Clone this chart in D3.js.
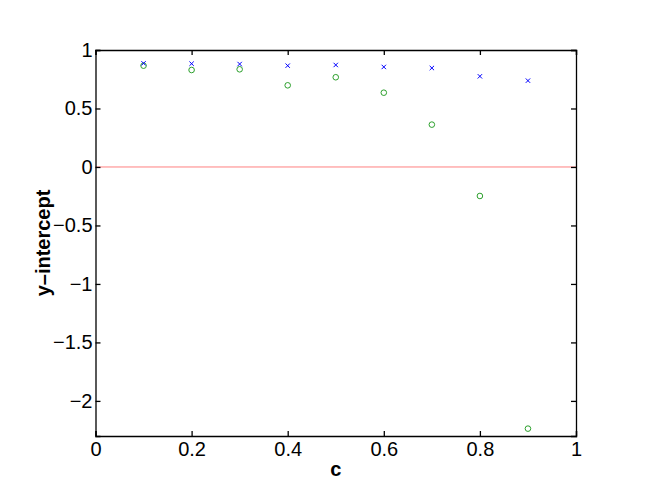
<!DOCTYPE html>
<html><head><meta charset="utf-8">
<script src="https://cdn.jsdelivr.net/npm/d3@7"></script>
<style>body{margin:0;background:#fff}svg{display:block}text{font-family:"Liberation Sans",Arial,sans-serif}</style>
</head><body>
<script>
const cValues = [0.1,0.2,0.3,0.4,0.5,0.6,0.7,0.8,0.9];
const seriesX = [0.886,0.883,0.880,0.866,0.872,0.855,0.846,0.775,0.738];
const seriesO = [0.866,0.829,0.835,0.698,0.767,0.635,0.362,-0.248,-2.237];
const xTicks = [0,0.2,0.4,0.6,0.8,1];
const yTicks = [-2,-1.5,-1,-0.5,0,0.5,1];

const W=651,H=503;
const L=95.5,R=576,T=50,B=436;
const svg=d3.select("body").append("svg").attr("width",W).attr("height",H);
const x=d3.scaleLinear().domain([0,1]).range([L,R]);
const y=d3.scaleLinear().domain([-2.3,1]).range([B,T]);
const fmt=d=>String(d).replace("-","\u2212");

// zero line
svg.append("line").attr("x1",L).attr("x2",R).attr("y1",y(0)).attr("y2",y(0))
  .attr("stroke","#ff8080").attr("stroke-width",1);

// axes with inward ticks
const ax=svg.append("g").attr("transform",`translate(0,${B})`)
  .call(d3.axisBottom(x).tickValues(xTicks).tickSize(-5).tickPadding(6).tickFormat(fmt));
const axT=svg.append("g").attr("transform",`translate(0,${T})`)
  .call(d3.axisTop(x).tickValues(xTicks).tickSize(-5).tickFormat(""));
const ay=svg.append("g").attr("transform",`translate(${L},0)`)
  .call(d3.axisLeft(y).tickValues(yTicks).tickSize(-5).tickPadding(3).tickFormat(fmt));
const ayR=svg.append("g").attr("transform",`translate(${R},0)`)
  .call(d3.axisRight(y).tickValues(yTicks).tickSize(-5).tickFormat(""));
[ax,axT,ay,ayR].forEach(g=>{
  g.attr("font-family",null).attr("font-size",null);
  g.select(".domain").attr("stroke","#000").attr("stroke-width",1.3);
  g.selectAll(".tick line").attr("stroke","#000").attr("stroke-width",1.3);
  g.selectAll("text").style("font-size","20px").attr("fill","#000");
});

// circles
svg.append("g").selectAll("circle").data(cValues).join("circle")
  .attr("cx",d=>x(d)).attr("cy",(d,i)=>y(seriesO[i])).attr("r",2.8)
  .attr("fill","none").attr("stroke","#2ca02c").attr("stroke-width",1);

// crosses
const s=2.2;
svg.append("g").selectAll("path").data(cValues).join("path")
  .attr("d",(d,i)=>{const cx=x(d),cy=y(seriesX[i]);
    return `M${cx-s},${cy-s}L${cx+s},${cy+s}M${cx-s},${cy+s}L${cx+s},${cy-s}`;})
  .attr("stroke","#0000ff").attr("stroke-width",1).attr("fill","none");

// labels
svg.append("text").attr("x",(L+R)/2).attr("y",476).attr("text-anchor","middle")
  .style("font-size","20px").attr("font-weight","bold").text("c");
svg.append("text").attr("transform",`translate(50,243) rotate(-90)`)
  .attr("text-anchor","middle").style("font-size","20px").attr("font-weight","bold").text("y\u2013intercept");
</script>
</body></html>
